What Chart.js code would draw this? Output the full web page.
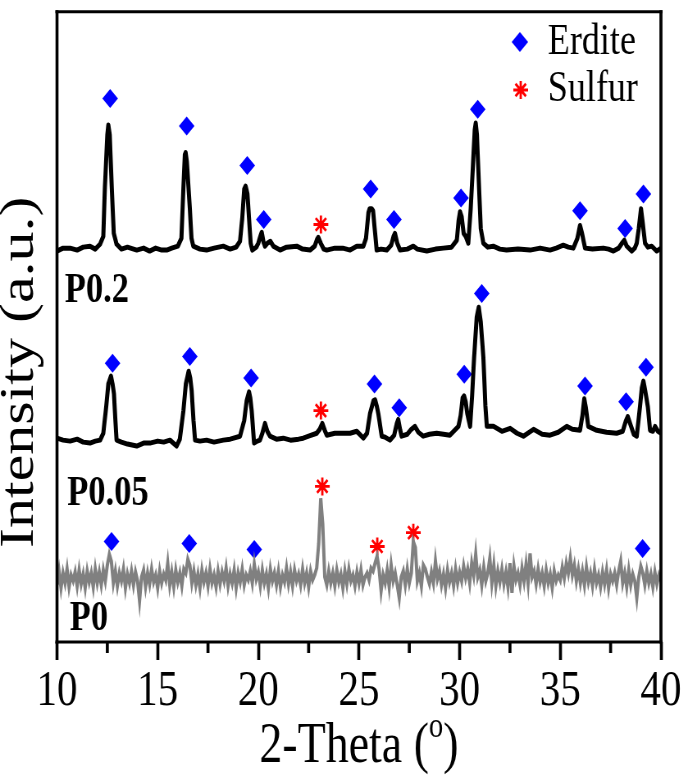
<!DOCTYPE html>
<html>
<head>
<meta charset="utf-8">
<script src="https://cdn.jsdelivr.net/npm/chart.js@4.4.1/dist/chart.umd.min.js"></script>
<style>
  html, body { margin: 0; padding: 0; background: #ffffff; overflow: hidden; }
  #wrap { position: absolute; left: 0; top: 0; width: 835px; height: 775px; transform: scaleX(0.82); transform-origin: 0 0; }
</style>
</head>
<body>
<div id="wrap"><canvas id="c"></canvas></div>
<script>
// ---------------- DATA ----------------
const seriesNames = ['P0.2', 'P0.05', 'P0'];
const xTickValues = [10, 15, 20, 25, 30, 35, 40];
const xMinorTicks = [12.5, 17.5, 22.5, 27.5, 32.5, 37.5];

// P0.2 (black, top trace)
const p02X = [10.0,10.3,10.65,11.0,11.3,11.64,11.9,12.14,12.3,12.38,12.5,12.55,12.62,12.72,12.82,12.96,13.2,13.5,13.96,14.3,14.6,14.9,15.2,15.45,15.7,16.0,16.18,16.28,16.35,16.39,16.45,16.6,16.68,16.77,17.1,17.43,17.8,18.26,18.6,18.9,19.09,19.2,19.3,19.37,19.46,19.54,19.62,19.7,19.9,20.0,20.1,20.17,20.26,20.33,20.45,20.6,20.75,21.08,21.4,21.91,22.2,22.57,22.8,22.92,22.98,23.1,23.25,23.4,23.8,24.2,24.56,24.89,25.22,25.35,25.47,25.53,25.63,25.7,25.78,25.88,26.1,26.38,26.6,26.72,26.79,26.9,27.04,27.4,27.7,27.9,28.37,28.8,29.19,29.6,29.86,29.95,30.02,30.1,30.2,30.3,30.43,30.55,30.65,30.75,30.8,30.86,30.93,31.05,31.18,31.4,31.67,32.0,32.33,32.9,33.5,34.0,34.49,34.8,35.15,35.4,35.65,35.85,35.98,36.08,36.23,36.6,37.14,37.4,37.64,37.9,38.1,38.18,38.3,38.55,38.7,38.8,38.9,39.01,39.1,39.21,39.35,39.54,39.79,40.0];
const p02Y = [397,400,400,398,401,402,399,404,412,462,515,525,515,462,415,404,399,401,398,400,397,400,398,398,400,402,410,462,495,497,488,440,410,402,399,398,400,402,399,401,407,430,460,463,455,430,405,398,401,405,412,416,406,402,405,407,402,398,401,402,399,398,402,409,411,405,399,398,400,400,398,402,402,410,436,440,440,438,420,398,399,398,403,412,415,405,398,399,402,399,397,399,400,401,408,428,437,432,415,412,405,440,479,520,527,515,479,420,405,401,402,399,398,399,398,400,398,400,403,401,400,410,423,415,400,399,400,399,397,400,406,408,402,397,400,405,420,440,425,405,401,402,397,400];

// P0.05 (black, middle trace)
const p005X = [10.0,10.3,10.65,11.0,11.3,11.64,11.9,12.14,12.3,12.45,12.55,12.68,12.76,12.83,12.9,12.96,13.2,13.5,13.96,14.3,14.62,15.0,15.3,15.61,15.94,16.1,16.28,16.4,16.54,16.62,16.69,16.78,16.86,17.1,17.43,17.8,18.26,18.6,19.09,19.3,19.42,19.54,19.6,19.67,19.79,19.95,20.08,20.2,20.33,20.45,20.58,20.9,21.24,21.6,22.0,22.23,22.5,22.9,23.05,23.18,23.3,23.4,23.8,24.22,24.56,24.89,25.22,25.4,25.55,25.72,25.8,25.88,25.96,26.13,26.3,26.54,26.75,26.88,26.95,27.05,27.12,27.4,27.6,27.78,27.95,28.19,28.5,28.86,29.2,29.52,29.94,30.05,30.15,30.22,30.3,30.38,30.52,30.62,30.72,30.85,30.95,31.05,31.18,31.28,31.35,31.68,32.1,32.51,32.85,33.17,33.67,34.1,34.49,34.9,35.32,35.6,35.98,36.1,36.19,36.27,36.39,36.81,37.3,37.8,38.1,38.25,38.35,38.5,38.65,38.8,38.96,39.05,39.13,39.22,39.35,39.46,39.6,39.71,39.85,40.0];
const p005Y = [207,205,204,206,203,202,204,205,212,240,262,270,262,252,225,205,203,201,199,202,202,204,203,205,199,206,235,262,275,268,255,225,205,204,205,203,205,206,209,225,245,254,248,235,202,204,205,212,222,214,209,206,207,205,206,207,209,212,216,222,215,210,212,212,212,214,207,212,232,245,246,240,232,209,208,205,210,222,226,215,209,211,216,219,213,209,211,212,211,210,219,230,248,250,244,232,219,250,289,330,340,325,289,240,219,219,214,217,212,209,216,211,210,213,219,216,215,230,247,238,219,215,213,212,214,224,229,220,211,209,239,258,265,255,239,215,214,219,214,212];

// P0 (grey, bottom trace), scan from 10.0 to 40.0 deg in 0.1 deg steps
const p0Start = 10.0;
const p0Step = 0.1;
const p0Y = [
  58,72,55,70,60,74,56,68,62,71,
  57,73,59,69,55,72,61,70,56,74,
  60,71,58,73,62,78,89,82,60,72,
  57,70,62,74,55,69,60,72,58,71,
  62,42,66,73,56,70,59,74,61,68,
  55,72,60,69,63,80,58,71,56,73,
  61,70,57,74,70,84,78,60,72,58,
  69,55,73,61,70,57,74,60,68,56,
  72,59,71,62,75,57,69,60,73,55,
  70,61,74,58,68,63,72,60,79,64,
  71,57,73,60,69,55,74,62,70,58,
  72,56,68,61,75,59,71,57,73,62,
  69,58,74,60,70,56,72,63,68,75,
  100,146,120,66,58,72,60,70,57,73,
  61,69,55,72,59,74,62,68,57,71,
  60,73,58,66,70,63,75,72,80,87,
  74,52,68,60,73,56,78,62,70,58,
  45,66,72,58,74,60,70,102,96,62,
  70,57,78,74,66,59,71,60,82,64,
  72,58,69,55,73,61,70,57,74,60,
  71,62,77,65,74,60,80,68,89,66,
  73,58,76,62,70,85,60,78,57,72,
  61,74,59,71,56,80,50,77,63,70,
  58,75,62,79,60,90,66,72,59,74,
  61,70,57,73,60,69,55,72,62,68,
  63,76,65,80,70,85,68,78,62,74,
  60,72,58,76,61,70,57,74,60,68,
  56,71,59,73,55,69,62,70,58,72,
  82,60,70,56,73,58,69,62,45,66,
  77,70,58,72,60,69,56,71,59,68,
  62
];

// Phase markers
const erditeX = [12.64,16.44,19.45,20.27,25.58,26.74,30.07,30.9,35.98,38.22,39.13, 12.76,16.6,19.64,25.77,27.0,30.23,31.1,36.23,38.27,39.26, 12.71,16.57,19.8,39.09];
const erditeY = [552,524,484,429,460,429,451,541,438,420,455, 283,290,268,262,238,272,354,260,244,279, 102,100,94,95];
const sulfurX = [23.11,23.11,23.18,25.91,27.7];
const sulfurY = [424,235,158,97,111];

const legendLabels = ['Erdite', 'Sulfur'];
const xTitle = '2-Theta (';
const xTitleSup = 'o';
const xTitleEnd = ')';
const yTitle = 'Intensity (a.u.)';

// ---------------- BUILD ----------------
const SERIF = "'Liberation Serif', 'Times New Roman', Times, serif";
const K = 0.82; // horizontal compression of the figure

function pairs(xs, ys) { return xs.map((x, i) => ({ x: x, y: ys[i] })); }
const p0Data = p0Y.map((y, i) => ({ x: +(p0Start + i * p0Step).toFixed(2), y: y }));

const overlay = {
  id: 'overlay',
  afterDraw(chart) {
    const ctx = chart.ctx;
    const a = chart.chartArea;
    const xs = chart.scales.x;
    ctx.save();
    ctx.strokeStyle = '#000';
    ctx.lineCap = 'butt';
    // frame
    ctx.lineWidth = 3;
    ctx.beginPath();
    ctx.moveTo(a.left - 2, a.top); ctx.lineTo(a.right + 2, a.top);
    ctx.moveTo(a.left - 2, a.bottom); ctx.lineTo(a.right + 2, a.bottom);
    ctx.stroke();
    ctx.lineWidth = 3 / K;
    ctx.beginPath();
    ctx.moveTo(a.left, a.top - 1.5); ctx.lineTo(a.left, a.bottom + 1.5);
    ctx.moveTo(a.right, a.top - 1.5); ctx.lineTo(a.right, a.bottom + 1.5);
    ctx.stroke();
    // minor ticks
    ctx.beginPath();
    xMinorTicks.forEach(v => {
      const px = xs.getPixelForValue(v);
      ctx.moveTo(px, a.bottom); ctx.lineTo(px, a.bottom + 11);
    });
    ctx.stroke();

    // sample labels
    ctx.fillStyle = '#000';
    ctx.textBaseline = 'alphabetic';
    ctx.textAlign = 'left';
    ctx.font = 'bold 42px ' + SERIF;
    ctx.fillText(seriesNames[0], 79, 302);
    ctx.fillText(seriesNames[1], 82, 505);
    ctx.fillText(seriesNames[2], 85, 630);

    // y title
    ctx.save();
    ctx.font = '60px ' + SERIF;
    ctx.translate(40, 548);
    ctx.rotate(-Math.PI / 2);
    ctx.fillText(yTitle, 0, 0);
    ctx.restore();

    // x title with superscript
    const fMain = '56px ' + SERIF, fSup = '35px ' + SERIF;
    ctx.font = fMain;
    const w1 = ctx.measureText(xTitle).width;
    const w3 = ctx.measureText(xTitleEnd).width;
    ctx.font = fSup;
    const w2 = ctx.measureText(xTitleSup).width;
    const total = w1 + w2 + w3;
    let tx = (a.left + a.right) / 2 - total / 2;
    const ty = 762;
    ctx.font = fMain; ctx.fillText(xTitle, tx, ty); tx += w1;
    ctx.font = fSup; ctx.fillText(xTitleSup, tx, ty - 25); tx += w2;
    ctx.font = fMain; ctx.fillText(xTitleEnd, tx, ty);

    // legend
    ctx.fillStyle = '#0000ff';
    ctx.beginPath();
    ctx.moveTo(634 - 10, 42); ctx.lineTo(634, 32); ctx.lineTo(634 + 10, 42); ctx.lineTo(634, 52); ctx.closePath();
    ctx.fill();
    ctx.strokeStyle = '#ff0000';
    ctx.lineWidth = 2.8;
    Chart.helpers.drawPoint(ctx, { pointStyle: 'star', radius: 9, rotation: 0, borderWidth: 2.8 }, 635, 90);
    ctx.fillStyle = '#000';
    ctx.font = '44px ' + SERIF;
    ctx.fillText(legendLabels[0], 668, 54);
    ctx.fillText(legendLabels[1], 668, 101);
    ctx.restore();
  }
};

new Chart(document.getElementById('c'), {
  type: 'scatter',
  data: {
    datasets: [
      { label: seriesNames[2], data: p0Data, showLine: true, borderColor: '#808080', borderWidth: 4, pointRadius: 0, tension: 0 },
      { label: seriesNames[1], data: pairs(p005X, p005Y), showLine: true, borderColor: '#000000', borderWidth: 5, pointRadius: 0, tension: 0, borderJoinStyle: 'round' },
      { label: seriesNames[0], data: pairs(p02X, p02Y), showLine: true, borderColor: '#000000', borderWidth: 5, pointRadius: 0, tension: 0, borderJoinStyle: 'round' },
      { label: legendLabels[0], data: pairs(erditeX, erditeY), showLine: false, pointStyle: 'rectRot', pointRadius: 9.5, pointBackgroundColor: '#0000ff', pointBorderColor: '#0000ff', pointBorderWidth: 0 },
      { label: legendLabels[1], data: pairs(sulfurX, sulfurY), showLine: false, pointStyle: 'star', pointRadius: 9, pointBorderColor: '#ff0000', pointBackgroundColor: '#ff0000', pointBorderWidth: 2.8 }
    ]
  },
  options: {
    responsive: true,
    maintainAspectRatio: false,
    animation: false,
    devicePixelRatio: 1,
    events: [],
    layout: { padding: { top: 2, right: 29, bottom: 0, left: 0 } },
    plugins: { legend: { display: false }, tooltip: { enabled: false } },
    scales: {
      x: {
        type: 'linear', min: 10, max: 40,
        afterBuildTicks: s => { s.ticks = xTickValues.map(v => ({ value: v })); },
        afterFit: s => { s.height = 133; },
        border: { display: false },
        grid: { display: true, drawOnChartArea: false, drawTicks: true, tickLength: 18, tickWidth: 3 / K, tickColor: '#000' },
        ticks: { color: '#000', font: { family: SERIF, size: 50 }, padding: 2, maxRotation: 0, autoSkip: false },
        title: { display: false }
      },
      y: {
        type: 'linear', min: 0, max: 640,
        afterFit: s => { s.width = 69.5; },
        border: { display: false },
        grid: { display: false },
        ticks: { display: false },
        title: { display: false }
      }
    }
  },
  plugins: [overlay]
});
</script>
</body>
</html>
